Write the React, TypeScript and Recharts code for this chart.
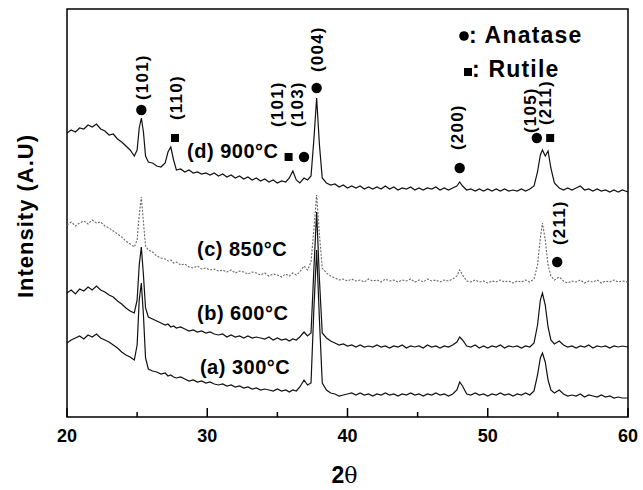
import React from 'react';
import { LineChart, Line, XAxis, YAxis, ReferenceDot, ReferenceArea } from 'recharts';

const FONT = "'Liberation Sans', Arial, Helvetica, sans-serif";

// 2-theta positions (degrees)
const X = [
  20.0, 20.3, 20.6, 20.9, 21.2, 21.5, 21.8, 22.1, 22.4, 22.7,
  23.0, 23.3, 23.6, 23.9, 24.2, 24.5, 24.8, 25.0, 25.15, 25.3,
  25.45, 25.6, 25.8, 26.1, 26.4, 26.7, 27.0, 27.2, 27.4, 27.6,
  27.8, 28.1, 28.4, 28.7, 29.0, 29.3, 29.6, 29.9, 30.2, 30.5,
  30.8, 31.1, 31.4, 31.7, 32.0, 32.3, 32.6, 32.9, 33.2, 33.5,
  33.8, 34.1, 34.4, 34.7, 35.0, 35.3, 35.6, 35.85, 36.1, 36.35,
  36.6, 36.9, 37.15, 37.4, 37.6, 37.8, 38.0, 38.2, 38.5, 38.8,
  39.1, 39.4, 39.7, 40.0, 40.3, 40.6, 40.9, 41.2, 41.5, 41.8,
  42.1, 42.4, 42.7, 43.0, 43.3, 43.6, 43.9, 44.2, 44.5, 44.8,
  45.1, 45.4, 45.7, 46.0, 46.3, 46.6, 46.9, 47.2, 47.5, 47.8,
  48.0, 48.2, 48.5, 48.8, 49.1, 49.4, 49.7, 50.0, 50.3, 50.6,
  50.9, 51.2, 51.5, 51.8, 52.1, 52.4, 52.7, 53.0, 53.3, 53.55,
  53.75, 53.9, 54.1, 54.3, 54.5, 54.75, 55.1, 55.4, 55.7, 56.0,
  56.3, 56.6, 56.9, 57.2, 57.5, 57.8, 58.1, 58.4, 58.7, 59.0,
  59.3, 59.6, 60.0,
];

// (a) 300°C
const A300 = [
  74, 77, 79, 81, 78, 82, 80, 83, 79, 77,
  75, 72, 69, 65, 62, 60, 57, 72, 117, 134,
  102, 59, 48, 46, 45, 43, 44, 41, 42, 40,
  39, 40, 38, 36, 37, 35, 36, 34, 35, 33,
  32, 33, 31, 32, 30, 31, 29, 30, 28, 29,
  27, 28, 27, 26, 28, 26, 27, 25, 27, 26,
  30, 37, 32, 34, 107, 167, 97, 34, 27, 24,
  23, 21, 22, 23, 24, 22, 24, 22, 23, 21,
  23, 22, 24, 22, 23, 21, 23, 22, 24, 22,
  23, 21, 23, 22, 24, 22, 23, 21, 23, 27,
  35, 31, 23, 22, 24, 22, 23, 21, 23, 22,
  24, 22, 23, 21, 23, 22, 24, 22, 26, 42,
  59, 64, 55, 37, 27, 24, 27, 23, 21, 22,
  21, 23, 20, 22, 21, 20, 22, 20, 21, 19,
  20, 19, 19,
];

// (b) 600°C
const B600 = [
  124, 127, 123, 128, 126, 130, 127, 131, 127, 125,
  122, 120, 116, 113, 109, 106, 104, 117, 152, 170,
  142, 109, 100, 98, 96, 94, 92, 93, 90, 91,
  89, 90, 88, 86, 87, 85, 86, 84, 85, 83,
  82, 83, 80, 82, 80, 81, 79, 81, 79, 80,
  79, 78, 80, 77, 79, 77, 78, 76, 78, 77,
  80, 85, 81, 84, 147, 205, 137, 84, 79, 76,
  74, 72, 73, 71, 72, 70, 72, 70, 71, 70,
  72, 70, 71, 69, 71, 70, 72, 69, 71, 70,
  71, 69, 72, 70, 71, 69, 71, 70, 72, 75,
  80, 77, 71, 70, 72, 69, 71, 69, 71, 70,
  72, 69, 71, 70, 71, 69, 71, 70, 74, 92,
  117, 124, 112, 90, 77, 73, 76, 72, 70, 71,
  69, 71, 70, 72, 69, 71, 70, 71, 69, 71,
  70, 71, 70,
];

// (c) 850°C
const C850 = [
  192, 195, 191, 194, 196, 193, 197, 194, 195, 191,
  189, 186, 183, 180, 176, 173, 170, 177, 202, 220,
  195, 171, 167, 165, 161, 159, 158, 156, 157, 154,
  155, 152, 153, 150, 149, 151, 148, 149, 147, 148,
  146, 147, 145, 147, 144, 146, 145, 143, 145, 144,
  142, 144, 141, 143, 142, 140, 143, 141, 144, 142,
  145, 151, 147, 155, 187, 222, 182, 149, 144, 141,
  139, 137, 138, 136, 138, 136, 137, 135, 138, 136,
  137, 135, 138, 136, 137, 135, 137, 136, 138, 135,
  137, 135, 138, 136, 137, 135, 137, 136, 138, 141,
  147, 142, 136, 135, 137, 135, 136, 134, 136, 135,
  137, 135, 136, 134, 136, 135, 137, 135, 138, 152,
  179, 194, 177, 152, 141, 137, 140, 136, 134, 136,
  135, 137, 134, 136, 135, 137, 134, 136, 135, 137,
  135, 136, 135,
];

// (d) 900°C
const D900 = [
  284, 287, 285, 289, 288, 292, 290, 293, 288, 286,
  282, 283, 278, 275, 271, 267, 261, 267, 289, 299,
  285, 261, 255, 254, 251, 250, 254, 265, 270, 257,
  247, 248, 245, 247, 244, 245, 243, 244, 242, 244,
  241, 243, 240, 242, 239, 241, 238, 240, 237, 239,
  236, 238, 235, 237, 234, 236, 235, 239, 246, 237,
  234, 239, 237, 241, 277, 319, 272, 239, 234, 232,
  233, 230, 232, 229, 231, 229, 231, 228, 230, 228,
  230, 228, 231, 228, 230, 227, 229, 228, 230, 227,
  229, 227, 229, 228, 230, 227, 229, 227, 229, 231,
  235, 231, 227, 228, 226, 228, 226, 228, 226, 228,
  226, 228, 226, 227, 226, 228, 226, 228, 231, 245,
  262, 267, 261, 266, 249, 234, 229, 227, 229, 227,
  229, 231, 227, 228, 226, 228, 226, 227, 225, 227,
  225, 227, 225,
];

const X_TICKS = [20, 25, 30, 35, 40, 45, 50, 55, 60];

// peak markers
const ANATASE_MARKS = [
  { x: 25.3, y: 307 },
  { x: 36.9, y: 260 },
  { x: 37.8, y: 329 },
  { x: 48.0, y: 249 },
  { x: 53.5, y: 279 },
  { x: 54.95, y: 155 },
];
const RUTILE_MARKS = [
  { x: 27.7, y: 279 },
  { x: 35.8, y: 260 },
  { x: 54.45, y: 279 },
];

// Miller index labels (rotated)
const HKL_LABELS = [
  { x: 25.4, y: 317, text: '(101)' },
  { x: 27.84, y: 297, text: '(110)' },
  { x: 35.04, y: 290, text: '(101)' },
  { x: 36.47, y: 290, text: '(103)' },
  { x: 37.83, y: 345, text: '(004)' },
  { x: 47.81, y: 267, text: '(200)' },
  { x: 53.08, y: 284, text: '(105)' },
  { x: 54.1, y: 292, text: '(211)' },
  { x: 55.1, y: 172, text: '(211)' },
];

// sample labels
const SAMPLE_LABELS = [
  { x: 28.56, y: 259, text: '(d) 900°C' },
  { x: 29.27, y: 161, text: '(c) 850°C' },
  { x: 29.27, y: 97, text: '(b) 600°C' },
  { x: 29.48, y: 43, text: '(a) 300°C' },
];

const data = X.map((x, i) => ({ x, a: A300[i], b: B600[i], c: C850[i], d: D900[i] }));

const XTick = (props: any) => {
  const { x, y, payload } = props;
  const v = payload.value;
  const major = v % 10 === 0;
  return (
    <g>
      <line x1={x} x2={x} y1={y} y2={y - (major ? 9 : 5)} stroke="#000" strokeWidth={1.5} />
      {major && (
        <text x={x} y={y + 25} textAnchor="middle" fontSize={18} fontWeight="bold" fontFamily={FONT} fill="#000">
          {v}
        </text>
      )}
    </g>
  );
};

const renderXLabel = (props: any) => {
  const vb = props.viewBox || { x: 67, y: 417, width: 561, height: 73 };
  return (
    <text x={vb.x + vb.width / 2 - 3} y={vb.y + 66} textAnchor="middle" fontFamily={FONT} fontSize={23} fill="#000">
      <tspan fontWeight="bold">2</tspan>
      <tspan fontFamily="'DejaVu Serif', 'Liberation Serif', serif" fontSize={22}>θ</tspan>
    </text>
  );
};

const renderYLabel = (props: any) => {
  const vb = props.viewBox || { x: 0, y: 9, width: 67, height: 408 };
  const cx = vb.x + 25;
  const cy = vb.y + vb.height / 2 + 3;
  return (
    <text
      x={cx}
      y={cy}
      transform={`rotate(-90 ${cx} ${cy})`}
      textAnchor="middle"
      dominantBaseline="central"
      fontFamily={FONT}
      fontSize={22}
      fontWeight="bold"
      letterSpacing={1}
      fill="#000"
    >
      Intensity (A.U)
    </text>
  );
};

const circleShape = (p: any) => <circle cx={p.cx} cy={p.cy} r={5.2} fill="#000" />;
const squareShape = (p: any) => <rect x={p.cx - 4} y={p.cy - 4} width={8} height={8} fill="#000" />;

const hklShape = (text: string) => (p: any) => (
  <text
    x={p.cx}
    y={p.cy}
    transform={`rotate(-90 ${p.cx} ${p.cy})`}
    textAnchor="start"
    dominantBaseline="central"
    fontFamily={FONT}
    fontSize={17}
    fontWeight="bold"
    letterSpacing={1.2}
    fill="#000"
  >
    {text}
  </text>
);

const sampleShape = (text: string) => (p: any) => (
  <text x={p.cx} y={p.cy} textAnchor="start" fontFamily={FONT} fontSize={20} fontWeight="bold" letterSpacing={0.5} fill="#000">
    {text}
  </text>
);

export default function App() {
  return (
    <div style={{ position: 'absolute', left: 0, top: 0, width: 643, height: 490, background: '#fff' }}>
      <LineChart width={643} height={490} data={data} margin={{ top: 9, right: 15, bottom: 0, left: 0 }}>
        <XAxis
          type="number"
          dataKey="x"
          domain={[20, 60]}
          ticks={X_TICKS}
          interval={0}
          axisLine={false}
          tickLine={false}
          tickSize={0}
          tickMargin={0}
          height={73}
          tick={<XTick />}
          label={{ content: renderXLabel }}
        />
        <YAxis
          type="number"
          domain={[0, 408]}
          width={67}
          tick={false}
          axisLine={false}
          tickLine={false}
          label={{ content: renderYLabel }}
        />
        <Line dataKey="a" stroke="#111" strokeWidth={1.2} dot={false} isAnimationActive={false} />
        <Line dataKey="b" stroke="#111" strokeWidth={1.2} dot={false} isAnimationActive={false} />
        <Line dataKey="c" stroke="#666" strokeWidth={1.1} strokeDasharray="2 1.5" dot={false} isAnimationActive={false} />
        <Line dataKey="d" stroke="#111" strokeWidth={1.2} dot={false} isAnimationActive={false} />
        <ReferenceArea x1={20} x2={60} y1={0} y2={408} fill="none" stroke="#000" strokeWidth={1.5} ifOverflow="visible" />
        {ANATASE_MARKS.map((m, i) => (
          <ReferenceDot key={'an' + i} x={m.x} y={m.y} r={5} shape={circleShape} ifOverflow="visible" />
        ))}
        {RUTILE_MARKS.map((m, i) => (
          <ReferenceDot key={'ru' + i} x={m.x} y={m.y} r={4} shape={squareShape} ifOverflow="visible" />
        ))}
        {HKL_LABELS.map((m, i) => (
          <ReferenceDot key={'hkl' + i} x={m.x} y={m.y} r={1} shape={hklShape(m.text)} ifOverflow="visible" />
        ))}
        {SAMPLE_LABELS.map((m, i) => (
          <ReferenceDot key={'s' + i} x={m.x} y={m.y} r={1} shape={sampleShape(m.text)} ifOverflow="visible" />
        ))}
      </LineChart>
      <svg width={643} height={490} style={{ position: 'absolute', left: 0, top: 0, pointerEvents: 'none' }}>
        <circle cx={464} cy={36} r={4.8} fill="#000" />
        <text x={469} y={43} fontFamily={FONT} fontSize={23} fontWeight="bold" letterSpacing={1.2} fill="#000">
          : Anatase
        </text>
        <rect x={464} y={68} width={8} height={8} fill="#000" />
        <text x={472} y={77} fontFamily={FONT} fontSize={23} fontWeight="bold" letterSpacing={1.2} fill="#000">
          : Rutile
        </text>
      </svg>
    </div>
  );
}
